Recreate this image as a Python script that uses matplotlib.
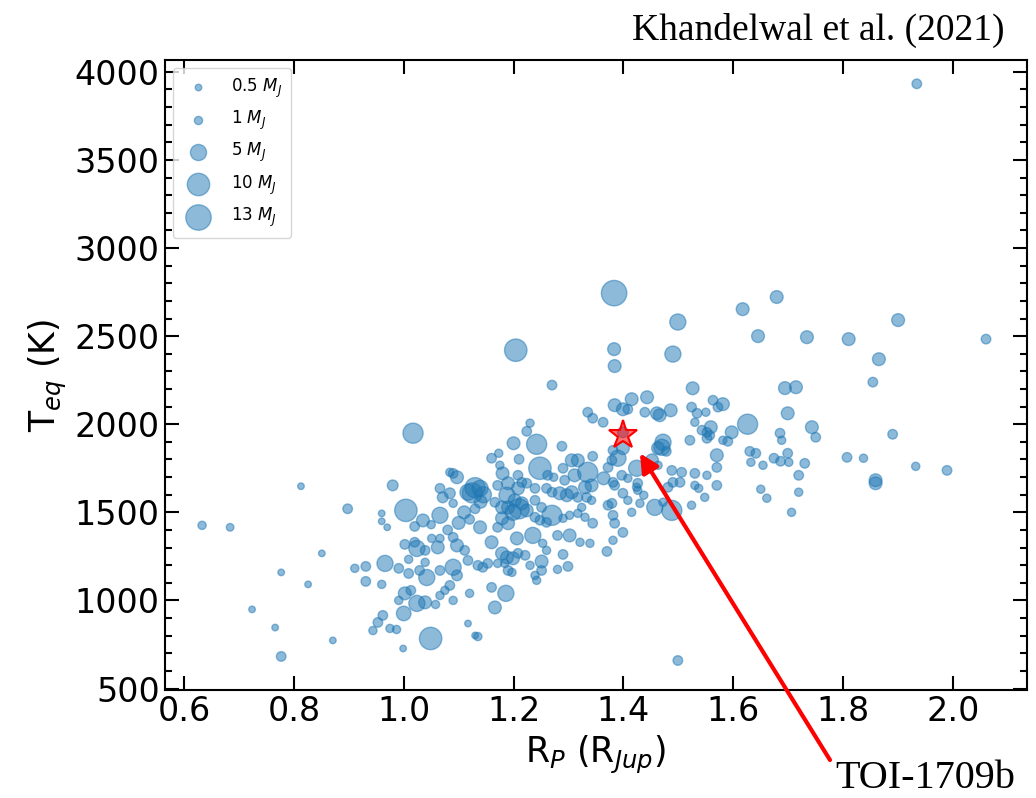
import matplotlib
matplotlib.use("Agg")
from matplotlib import pyplot as plt
from matplotlib.ticker import MultipleLocator

# planet radius (R_Jup), equilibrium temperature (K), mass (M_J)
radius = [
    1.934, 1.383, 1.204, 1.017, 1.004, 1.049, 0.633, 0.684, 0.813, 0.898,
    0.851, 0.724, 0.766, 0.777, 0.777, 0.826, 0.871, 0.999, 0.980, 0.960,
    0.960, 0.970, 0.911, 0.931, 0.931, 0.960, 0.966, 0.991, 1.009, 1.002,
    1.000, 0.944, 0.953, 0.962, 0.975, 0.987, 1.024, 1.039, 1.058,
    1.035, 1.066, 1.071, 1.084, 1.066, 1.090, 1.097, 1.084, 1.117, 1.090,
    1.009, 1.002, 1.024, 1.020, 1.039, 1.039, 1.029, 1.042, 1.051, 1.066,
    1.062, 1.066, 1.090, 1.097, 1.090, 1.097, 1.111, 1.117, 0.991, 1.013,
    1.066, 1.075, 1.084, 1.090, 1.117, 1.120, 1.130,
    1.160, 1.186, 1.166, 1.135, 1.135, 1.144, 1.153, 1.171, 1.184, 1.190,
    1.197, 1.179, 1.188, 1.199, 1.208, 1.221, 1.230, 1.239, 1.242, 1.251,
    1.251, 1.260, 1.253, 1.235, 1.206, 1.160, 1.280, 1.302, 1.290, 1.280,
    1.299, 1.321, 1.339,
    1.270, 1.335, 1.344, 1.230, 1.224, 1.200, 1.242, 1.288, 1.160, 1.173,
    1.210, 1.175, 1.180, 1.248, 1.262, 1.273, 1.208, 1.215, 1.290, 1.306,
    1.317, 1.344, 1.335, 1.311, 1.330, 1.342, 1.293, 1.139, 1.130, 1.171,
    1.188, 1.190, 1.208, 1.224, 1.239, 1.260, 1.270, 1.284, 1.297, 1.306,
    1.317, 1.333, 1.342, 1.324, 1.317, 1.330, 1.344, 1.166, 1.179, 1.190,
    1.202, 1.215, 1.199, 1.224, 1.239, 1.251, 1.270, 1.260, 1.239, 1.248,
    1.290, 1.302, 1.179, 1.190, 1.171, 1.139,
    1.384, 1.384, 1.399, 1.415, 1.408, 1.443, 1.439, 1.461, 1.466, 1.486,
    1.526, 1.524, 1.534, 1.530, 1.563, 1.572, 1.543, 1.552, 1.552, 1.581,
    1.363, 1.399, 1.521, 1.472, 1.470, 1.463, 1.478, 1.381, 1.399, 1.390,
    1.379, 1.372, 1.424, 1.452, 1.463, 1.488, 1.506, 1.530, 1.552, 1.570,
    1.570, 1.364, 1.381, 1.384, 1.397, 1.408, 1.426, 1.424, 1.426, 1.399,
    1.437, 1.481, 1.490, 1.503, 1.530, 1.537, 1.570, 1.408, 1.430, 1.372,
    1.379, 1.457, 1.488, 1.472, 1.524, 1.548, 1.381, 1.384, 1.415,
    1.370, 1.381, 1.399, 1.499,
    1.679, 1.617, 1.645, 1.734, 1.810, 1.900, 2.060, 1.865, 1.854, 1.694,
    1.714, 1.699, 1.626, 1.597, 1.581, 1.550, 1.559, 1.557, 1.590, 1.685,
    1.688, 1.743, 1.750, 1.890, 1.630, 1.641, 1.632, 1.654, 1.674, 1.686,
    1.699, 1.701, 1.730, 1.719, 1.719, 1.650, 1.661, 1.706, 1.807, 1.837,
    1.859, 1.859, 1.932, 1.989,
    1.499, 1.383, 1.490,
    1.020, 1.050, 1.100, 1.110, 1.120, 1.080, 1.130, 1.140, 1.125, 1.145,
    1.210,
]
teq = [
    3932, 2744, 2420, 1949, 1511, 784, 1426, 1415, 1648, 1520,
    1267, 949, 846, 682, 1159, 1091, 773, 727, 1653, 1494,
    1449, 1415, 1182, 1193, 1108, 1091, 1210, 1182, 1233, 1040,
    926, 829, 875, 915, 841, 835, 983, 989, 977,
    1454, 1483, 1585, 1608, 1636, 1721, 1699, 1727, 1614, 1551,
    1153, 1318, 1295, 1330, 1284, 1216, 1170, 1130, 1352, 1352,
    1301, 1170, 1358, 1312, 1188, 1142, 1284, 1227, 1000, 1057,
    1028, 1057, 1085, 1000, 869, 1040, 801,
    1074, 1040, 960, 795, 1199, 1188, 1210, 1210, 1210, 1170,
    1159, 1267, 1244, 1239, 1267, 1256, 1199, 1142, 1114, 1170,
    1221, 1284, 1324, 1369, 1352, 1330, 1369, 1369, 1261, 1176,
    1193, 1330, 1324,
    2222, 2068, 2034, 2006, 1960, 1892, 1886, 1875, 1807, 1835,
    1801, 1767, 1721, 1750, 1710, 1699, 1710, 1670, 1750, 1795,
    1795, 1818, 1727, 1710, 1642, 1653, 1682, 1636, 1640, 1653,
    1597, 1665, 1636, 1665, 1636, 1636, 1614, 1608, 1597, 1614,
    1585, 1585, 1568, 1528, 1494, 1472, 1438, 1557, 1528, 1528,
    1568, 1551, 1500, 1511, 1568, 1528, 1483, 1443, 1472, 1455,
    1466, 1483, 1466, 1438, 1415, 1415,
    2330, 2108, 2085, 2142, 2085, 2153, 2068, 2062, 2051, 2079,
    2204, 2097, 2062, 2011, 2136, 2097, 1966, 1954, 1920, 1909,
    2011, 1954, 1909, 1898, 1869, 1864, 1846, 1852, 1864, 1807,
    1795, 1755, 1750, 1795, 1767, 1738, 1727, 1721, 1710, 1755,
    1824, 1693, 1670, 1653, 1710, 1693, 1665, 1642, 1625, 1608,
    1597, 1642, 1670, 1670, 1653, 1636, 1653, 1568, 1551, 1540,
    1551, 1528, 1511, 1557, 1540, 1585, 1483, 1438, 1500,
    1278, 1341, 1386, 659,
    2722, 2653, 2500, 2494, 2483, 2591, 2483, 2369, 2239, 2205,
    2210, 2062, 2000, 1954, 2114, 2068, 1983, 1937, 1903, 1949,
    1909, 1983, 1926, 1943, 1846, 1835, 1784, 1767, 1807, 1790,
    1835, 1784, 1778, 1710, 1614, 1631, 1580, 1500, 1812, 1807,
    1682, 1665, 1761, 1738,
    2580, 2426, 2398,
    1420, 1430, 1440, 1500, 1460, 1400, 1520, 1560, 1610, 1600,
    1520,
]
mass = [
    1.5, 13, 10, 8, 10, 10, 1, 0.8, 0.5, 1.5,
    0.5, 0.5, 0.5, 1.5, 0.5, 0.5, 0.5, 0.5, 2, 0.5,
    0.5, 0.5, 1, 1.5, 1.5, 1, 5, 1.5, 1, 3,
    4, 1, 1.5, 1.5, 1, 1, 5, 3, 1,
    3, 5, 2, 2, 1.5, 1.5, 3, 1, 5, 1,
    1.5, 1.5, 5, 1.5, 1.5, 1, 1.5, 5, 1, 1,
    3, 1.5, 1.5, 3, 5, 2, 1.5, 1.5, 1, 1.5,
    1, 1, 1.5, 1, 0.5, 1, 0.5,
    1.5, 5, 3, 1, 1.5, 1.5, 1.5, 1, 1, 1.5,
    1, 3, 3, 3, 1.5, 1.5, 1, 1, 1, 1.5,
    3, 1, 1, 5, 3, 3, 1.5, 3, 1.5, 1,
    1.5, 1, 1,
    1.5, 1.5, 1.5, 1, 1.5, 3, 8, 1.5, 1.5, 1,
    1.5, 1, 3, 10, 1.5, 1, 1.5, 1.5, 1.5, 3,
    3, 1.5, 8, 3, 3, 3, 1.5, 5, 8, 1.5,
    5, 3, 3, 1.5, 1.5, 1.5, 1.5, 3, 3, 3,
    1.5, 1.5, 1, 1, 1, 1, 1.5, 1.5, 3, 3,
    3, 3, 5, 3, 1.5, 1.5, 8, 1.5, 1.5, 1.5,
    1, 1, 3, 3, 1.5, 3,
    3, 3, 3, 3, 1.5, 3, 1.5, 3, 3, 3,
    3, 1.5, 1.5, 1, 1.5, 1.5, 1.5, 1.5, 1.5, 1,
    1.5, 2, 1.5, 5, 5, 3, 1.5, 1.5, 3, 5,
    1.5, 1.5, 5, 3, 1, 1.5, 1.5, 1.5, 1, 1.5,
    3, 3, 1.5, 1.5, 1.5, 1, 1.5, 1, 1, 1.5,
    1, 1.5, 1.5, 1.5, 1, 1, 1.5, 1, 1, 1.5,
    1.5, 5, 8, 1, 1, 1, 1.5, 1.5, 1,
    1.5, 1, 1.5, 1.5,
    3, 3, 3, 3, 3, 3, 1.5, 3, 1.5, 3,
    3, 3, 8, 3, 3, 1, 3, 1.5, 1.5, 1.5,
    1, 3, 1.5, 1.5, 1.5, 1.5, 1, 1, 1.5, 1.5,
    1.5, 1, 1.5, 1.5, 1, 1, 1, 1, 1.5, 1,
    3, 3, 1, 1.5,
    5, 3, 5,
    1.5, 1, 3, 3, 1.5, 1.5, 1.5, 3, 8, 5,
    8,
]

legend_masses = [0.5, 1, 5, 10, 13]

toi_r = 1.40
toi_t = 1937
arrow_tip = (1.43, 1835)


def msize(m):
    return 25 * m + 10


fig = plt.figure(figsize=(10.36, 7.98), dpi=100)
ax = fig.add_axes([0.159, 0.135, 0.832, 0.79])

ax.scatter(radius, teq, s=[msize(m) for m in mass], c='C0', alpha=0.5)

# legend entries
for m in legend_masses:
    lab = '%g $M_J$' % m
    ax.scatter([], [], s=msize(m), c='C0', alpha=0.5, label=lab)
ax.legend(loc='upper left', fontsize=12, labelspacing=0.55, borderpad=0.5,
          handletextpad=1.0, framealpha=0.8, edgecolor='#cccccc')

# TOI-1709b
ax.plot(toi_r, toi_t, marker='*', markersize=21, markerfacecolor=(1, 0, 0, 0.55),
        markeredgecolor='red', markeredgewidth=1.5, linestyle='none')

ax.set_xlim(0.565, 2.134)
ax.set_ylim(490, 4068)
ax.xaxis.set_major_locator(MultipleLocator(0.2))
ax.yaxis.set_major_locator(MultipleLocator(500))
ax.yaxis.set_minor_locator(MultipleLocator(100))
ax.tick_params(which='both', direction='in', top=True, right=True, labelsize=24)
ax.tick_params(which='major', length=10, width=1.5)
ax.tick_params(which='minor', length=5, width=1.5)
for sp in ax.spines.values():
    sp.set_linewidth(1.5)

ax.set_xlabel('R$_P$ (R$_{Jup}$)', fontsize=25)
ax.set_ylabel('T$_{eq}$ (K)', fontsize=25)

# arrow + labels outside the axes
ax.annotate('', xy=arrow_tip, xycoords='data', xytext=(830, 38),
            textcoords='figure pixels',
            arrowprops=dict(arrowstyle='-|>', color='red', lw=3,
                            mutation_scale=28, shrinkA=0, shrinkB=0))
fig.text(0.806, 0.001, 'TOI-1709b', family='Liberation Serif', fontsize=29,
         ha='left', va='bottom')
fig.text(0.970, 0.962, 'Khandelwal et al. (2021)', family='Liberation Serif',
         fontsize=27, ha='right', va='center')

fig.savefig('out.png', dpi=100)
